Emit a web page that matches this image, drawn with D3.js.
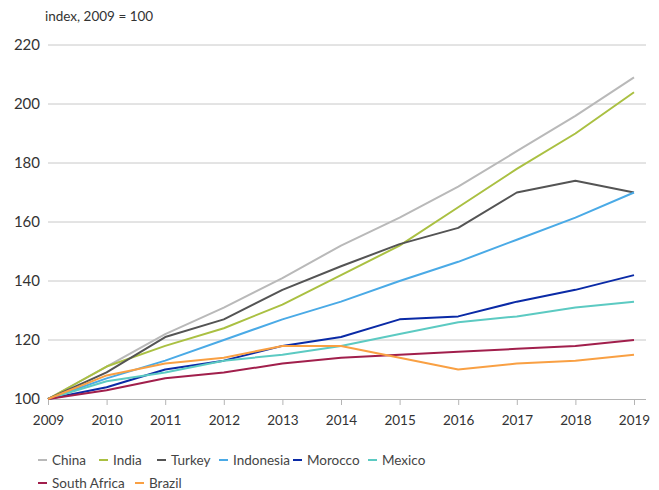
<!DOCTYPE html>
<html>
<head>
<meta charset="utf-8">
<script src="https://cdn.jsdelivr.net/npm/d3@7"></script>
<style>
  body { margin: 0; background: #fff; }
  svg { display: block; font-family: Lato, "Noto Sans", sans-serif; }
</style>
</head>
<body>
<div id="chart"></div>
<script>
// data
const years = [2009, 2010, 2011, 2012, 2013, 2014, 2015, 2016, 2017, 2018, 2019]
const yTicks = [100, 120, 140, 160, 180, 200, 220]

const china       = [100, 111, 122, 131, 141, 152, 161.5, 172, 184, 196, 209]
const india       = [100, 111, 118, 124, 132, 142, 152, 165, 178, 190, 204]
const turkey      = [100, 109, 121, 127, 137, 145, 152.5, 158, 170, 174, 170]
const indonesia   = [100, 107, 113, 120, 127, 133, 140, 146.5, 154, 161.5, 170]
const morocco     = [100, 104, 110, 113, 118, 121, 127, 128, 133, 137, 142]
const mexico      = [100, 106, 109, 113, 115, 118, 122, 126, 128, 131, 133]
const southAfrica = [100, 103, 107, 109, 112, 114, 115, 116, 117, 118, 120]
const brazil      = [100, 108, 112, 114, 118, 118, 114, 110, 112, 113, 115]

const series = [
    { name: 'China', values: china, color: '#b9b9b9' },
    { name: 'India', values: india, color: '#aac042' },
    { name: 'Turkey', values: turkey, color: '#545454' },
    { name: 'Indonesia', values: indonesia, color: '#4aaae6' },
    { name: 'Morocco', values: morocco, color: '#0a2aa6' },
    { name: 'Mexico', values: mexico, color: '#5ccac2' },
    { name: 'South Africa', values: southAfrica, color: '#a11f4c' },
    { name: 'Brazil', values: brazil, color: '#f9a043' }
]

const W = 659, H = 490
const LEFT = 48, RIGHT = 646

const x = d3.scaleLinear().domain([2009, 2019]).range([LEFT, 634])
const y = d3.scaleLinear().domain([100, 220]).range([399, 45])

const svg = d3.select('#chart').append('svg')
    .attr('width', W)
    .attr('height', H)

// grid lines + y labels
const gy = svg.append('g')
gy.selectAll('line')
    .data(yTicks.filter(t => t > 100))
    .join('line')
        .attr('x1', LEFT).attr('x2', RIGHT)
        .attr('y1', d => y(d)).attr('y2', d => y(d))
        .attr('stroke', '#c8c8c8')
        .attr('stroke-width', 1)

gy.selectAll('text')
    .data(yTicks)
    .join('text')
        .attr('x', 40)
        .attr('y', d => y(d))
        .attr('dy', '0.35em')
        .attr('text-anchor', 'end')
        .attr('font-size', 15)
        .attr('fill', '#333')
        .text(d => d)

svg.append('text')
    .attr('x', 45).attr('y', 21)
    .attr('font-size', 13.5)
    .attr('fill', '#333')
    .text('index, 2009 = 100')

// x axis
const xAxis = d3.axisBottom(x)
    .tickValues(years)
    .tickFormat(d3.format('d'))
    .tickSize(6)
    .tickPadding(10)

const ax = svg.append('g')
    .attr('transform', `translate(0,${y(100)})`)
    .call(xAxis)
ax.select('.domain').attr('d', `M${LEFT},0.5H${RIGHT}`).attr('stroke', '#b4b4b4')
ax.selectAll('.tick line').attr('stroke', '#b4b4b4')
ax.selectAll('.tick text')
    .attr('font-size', 13.5)
    .attr('fill', '#333')
    .attr('font-family', 'Lato, "Noto Sans", sans-serif')

// lines
const line = d3.line()
    .x((d, i) => x(years[i]))
    .y(d => y(d))

svg.append('g')
    .selectAll('path')
    .data(series)
    .join('path')
        .attr('d', s => line(s.values))
        .attr('fill', 'none')
        .attr('stroke', s => s.color)
        .attr('stroke-width', 2)
        .attr('stroke-linejoin', 'round')

// legend
const legendPos = [[38, 460], [99, 460], [157, 460], [219, 460], [293, 460], [368, 460], [38, 483], [135, 483]]

const lg = svg.append('g')
    .selectAll('g')
    .data(series)
    .join('g')
        .attr('transform', (s, i) => `translate(${legendPos[i][0]},${legendPos[i][1]})`)

lg.append('line')
    .attr('x1', 0).attr('x2', 9)
    .attr('y1', 0).attr('y2', 0)
    .attr('stroke', s => s.color)
    .attr('stroke-width', 2)

lg.append('text')
    .attr('x', 14)
    .attr('dy', '0.35em')
    .attr('font-size', 13.5)
    .attr('fill', '#444')
    .text(s => s.name)
</script>
</body>
</html>
